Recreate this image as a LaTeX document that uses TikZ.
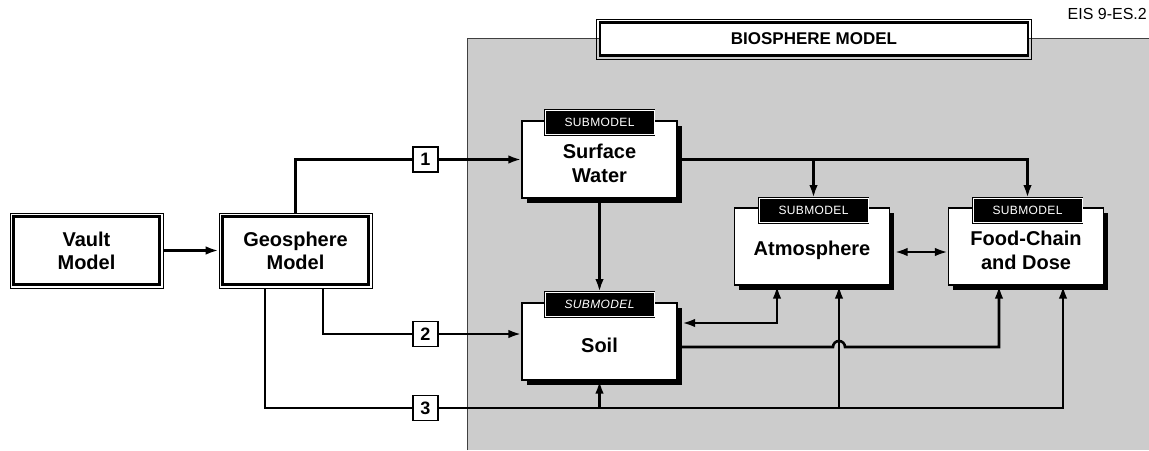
\documentclass[tikz,border=0pt]{standalone}
\usepackage{fontspec}
\setmainfont{Liberation Sans}
\usetikzlibrary{arrows.meta,fit,shadows,calc}
\begin{document}
\begin{tikzpicture}[x=1pt,y=-1pt,
  every node/.style={font=\fontsize{20}{23}\selectfont\bfseries, align=center, inner sep=0pt},
  conn/.style={line width=2.6pt},
  arr/.style={conn,-{Latex[length=13pt,width=8.5pt]}},
  dblarr/.style={conn,{Latex[length=13pt,width=8.5pt]}-{Latex[length=13pt,width=8.5pt]}},
  mainbox/.style={draw, line width=2.8pt, fill=white, minimum width=146pt, minimum height=68pt},
  outerframe/.style={draw, line width=0.8pt, inner sep=2pt},
  subbox/.style={draw, line width=1.2pt, fill=white, minimum width=155pt, minimum height=77pt,
    general shadow={fill=black, shadow xshift=4.5pt, shadow yshift=-4.5pt}},
  subtext/.style={yshift=-4pt, font=\fontsize{20}{24}\selectfont\bfseries},
  tagbox/.style={fill=black, draw=black, double=white, double distance=0.8pt, line width=0.8pt,
    text=white, font=\fontsize{12}{12}\selectfont\addfontfeatures{LetterSpace=3},
    minimum width=109pt, minimum height=24pt},
  numbox/.style={draw, line width=1.2pt, fill=white, minimum size=25pt,
    font=\fontsize{18}{18}\selectfont\bfseries},
  bg/.style={fill=black!20},
  bgedge/.style={line width=0.8pt, black!75}
]
\useasboundingbox (0,0) rectangle (1149,450);
% biosphere region
\fill[bg] (467,38) rectangle (1149,450);
\draw[bgedge] (467,450) -- (467,38) -- (1149,38);
\node[anchor=north east, font=\fontsize{16}{16}\selectfont] (eis) at (1147,8) {EIS 9-ES.2};
\node[mainbox, minimum width=428pt, minimum height=33pt, font=\fontsize{17}{17}\selectfont\bfseries] (bio) at (814,39) {BIOSPHERE MODEL};
\node[outerframe, fit=(bio)] (bioF) {};
% main boxes
\node[mainbox] (vault) at (86.5,250.5) {Vault\\Model};
\node[outerframe, fit=(vault)] (vaultF) {};
\node[mainbox] (geo) at (295.5,250.5) {Geosphere\\Model};
\node[outerframe, fit=(geo)] (geoF) {};
% submodels
\node[subbox, label={[subtext]center:Surface\\Water}] (sw) at (599.5,159.5) {};
\node[subbox, label={[subtext]center:Atmosphere}] (atm) at (812,246.5) {};
\node[subbox, label={[subtext]center:Food-Chain\\and Dose}] (fc) at (1026,246.5) {};
\node[subbox, label={[subtext]center:Soil}] (soil) at (599.5,341.5) {};
\node[tagbox] (swtag) at ($(sw.north)+(0,2)$) {SUBMODEL};
\node[tagbox] (atmtag) at ($(atm.north)+(1.5,3)$) {SUBMODEL};
\node[tagbox] (fctag) at ($(fc.north)+(1.5,3)$) {SUBMODEL};
\node[tagbox, font=\fontsize{12}{12}\selectfont\itshape\addfontfeatures{LetterSpace=3}] (soiltag) at ($(soil.north)+(0,2)$) {SUBMODEL};
% connectors
\draw[arr] (vaultF.east) -- (geoF.west);
\draw[arr] (geoF.north) |- (sw.west);
\coordinate (g2) at ($(geoF.south)+(27.5,0)$);
\draw[arr] (g2) |- ($(soil.west)+(0,-7.5)$);
\coordinate (g3) at ($(geoF.south)+(-30.5,0)$);
\coordinate (l3end) at (1063,408);
\draw[arr] (g3) |- (l3end) -- (l3end |- fc.south);
\draw[arr] (soil.south |- l3end) -- (soil.south);
\coordinate (l3a) at (839,408);
\draw[arr] (l3a) -- (l3a |- atm.south);
\draw[arr] (sw.east) -| (fctag.north);
\draw[arr] (sw.east -| atmtag.north) -- (atmtag.north);
\draw[arr] (sw.south) -- (soiltag.north);
\draw[dblarr] ($(atm.east)+(4.5,5.5)$) -- ($(fc.west)+(0,5.5)$);
\coordinate (sa) at (777,323);
\draw[dblarr] ($(soil.east |- sa)+(4.5,0)$) -| (sa |- atm.south);
\coordinate (sf) at (999,347);
\coordinate (hop) at (833,347);
\draw[arr] ($(soil.east |- sf)+(4.5,0)$) -- (hop) arc[start angle=180,end angle=360,radius=6] -- (sf) -- (sf |- fc.south);
% numbered boxes
\node[numbox] (n1) at (425.5,159.5) {1};
\node[numbox] (n2) at (425.5,334) {2};
\node[numbox] (n3) at (425.5,408) {3};
\end{tikzpicture}
\end{document}
